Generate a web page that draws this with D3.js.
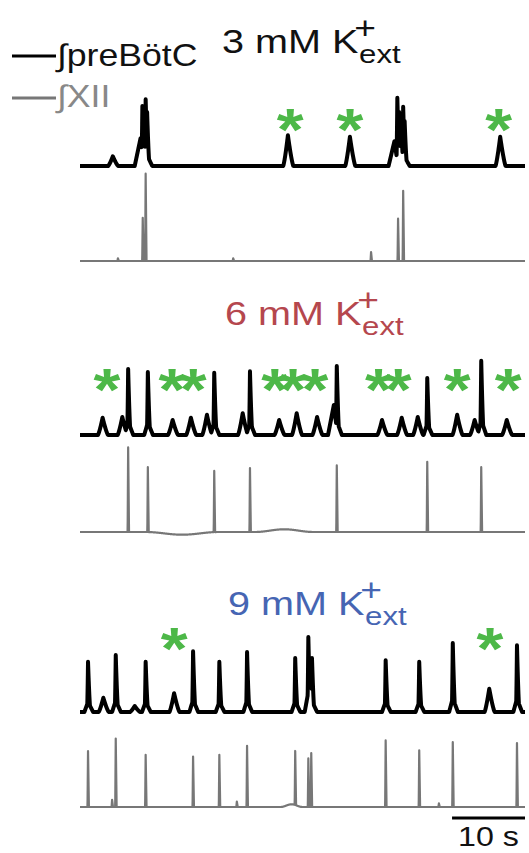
<!DOCTYPE html>
<html>
<head>
<meta charset="utf-8">
<script src="https://cdn.jsdelivr.net/npm/d3@7"></script>
<style>
  body { margin: 0; background: #fff; }
  svg { display: block; }
  text { font-family: "Liberation Sans", Arial, Helvetica, sans-serif; }
</style>
</head>
<body>
<svg id="fig" width="529" height="853"></svg>
<script>
// Recording window (s)
const DURATION = 61;

// Integrated preBötC bursts: [time s, amplitude a.u., kind]
// kind: s = full inspiratory burst, b = small burstlet, w = slow shoulder
const pre3mM = [
  [4.5, 13, "b"], [8.3, 37, "w"], [8.55, 80, "s"], [8.75, 70, "s"],
  [9.0, 89, "s"], [9.2, 72, "s"],
  [28.5, 41, "b"], [37.0, 39, "b"],
  [43.1, 33, "w"], [43.5, 91, "s"], [43.75, 72, "s"], [44.0, 66, "s"],
  [44.3, 79, "s"], [44.5, 60, "s"],
  [57.6, 39, "b"]
];
const pre6mM = [
  [3.1, 23, "b"], [5.8, 24, "b"], [6.6, 88, "s"], [9.3, 84, "s"],
  [12.7, 20, "b"], [15.2, 23, "b"], [17.4, 27, "b"], [18.4, 83, "s"],
  [22.3, 29, "b"], [23.3, 85, "s"], [27.3, 20, "b"], [29.7, 29, "b"],
  [32.5, 24, "b"], [34.8, 40, "w"], [35.2, 92, "s"], [41.4, 20, "b"],
  [44.1, 23, "b"], [46.3, 24, "b"], [47.6, 76, "s"], [51.7, 27, "b"],
  [54.1, 20, "b"], [55.0, 99, "s"], [58.5, 20, "b"]
];
const pre9mM = [
  [1.1, 67, "s"], [3.2, 19, "b"], [4.9, 76, "s"], [7.5, 8, "b"],
  [9.0, 67, "s"], [12.9, 25, "b"], [15.5, 81, "s"], [19.1, 67, "s"],
  [22.9, 80, "s"], [29.5, 72, "s"], [31.3, 100, "s"], [31.6, 43, "w"],
  [31.8, 72, "s"], [41.9, 69, "s"], [46.5, 67, "s"], [51.1, 92, "s"],
  [56.1, 31, "b"], [59.9, 89, "s"]
];

// Integrated XII bursts: [time s, amplitude a.u.]
const xii3mM = [
  [5.2, 3], [8.6, 48], [9.0, 97], [21.0, 3], [39.9, 10], [43.6, 47], [44.3, 78]
];
const xii6mM = [
  [6.6, 94], [9.3, 72], [18.4, 68], [23.3, 71], [35.2, 74], [47.6, 78], [55.0, 72]
];
const xii9mM = [
  [1.1, 62], [4.4, 8], [4.9, 76], [9.0, 58], [15.5, 56], [19.1, 58],
  [21.5, 6], [22.9, 68], [29.5, 60], [31.3, 54], [31.7, 60], [41.9, 74],
  [46.5, 63], [49.2, 4], [51.1, 72], [59.9, 71]
];

// Slow XII baseline drift: [centre s, amplitude a.u., half-width s]
const xiiDrift3mM = [];
const xiiDrift6mM = [[14.0, -3.0, 5.0], [28.0, 3.0, 4.0]];
const xiiDrift9mM = [[29.0, 3.0, 1.5]];

// Burstlets marked with an asterisk (time s)
const stars3mM = [28.8, 37.0, 57.4];
const stars6mM = [3.7, 12.6, 15.5, 26.7, 29.2, 32.2, 40.9, 43.6, 51.7, 58.7];
const stars9mM = [12.9, 56.2];

// Panel labels
const kConcentrations = ["3", "6", "9"];
const labelColors = ["#111111", "#b5474e", "#4665b3"];
const legendLabels = ["\u222BpreBötC", "\u222BXII"];
const scaleBarSeconds = 10;
const scaleBarLabel = "10 s";

// ---------------------------------------------------------------
const svg = d3.select("#fig");
const x = d3.scaleLinear().domain([0, DURATION]).range([80, 525]);

const PRE_COLOR = "#000000";
const XII_COLOR = "#777777";
const STAR_COLOR = "#4db848";
const STRETCH = 1.15;

// waveform profiles for each burst kind (rise / decay in seconds)
const profiles = {
  s: [{ k: 1.0, rise: 0.14, decay: 0.35, pow: 1.5 }, { k: 0.2, rise: 0.5, decay: 0.7, pow: 1 }],
  b: [{ k: 1.0, rise: 0.65, decay: 0.75, pow: 1.3 }],
  w: [{ k: 1.0, rise: 0.8, decay: 0.5, pow: 1 }],
  x: [{ k: 1.0, rise: 0.07, decay: 0.12, pow: 1 }]
};

function burstValue(dt, amp, kind) {
  let v = 0;
  for (const p of profiles[kind]) {
    if (dt < -p.rise || dt > p.decay) continue;
    const f = dt < 0 ? 1 + dt / p.rise : 1 - dt / p.decay;
    v = Math.max(v, p.k * amp * Math.pow(f, p.pow));
  }
  return v;
}

function buildTrace(events, drift) {
  const times = d3.range(0, DURATION + 1e-9, 0.02);
  events.forEach(e => times.push(e[0]));
  times.sort((a, b) => a - b);
  return times.map(t => {
    let v = 0;
    for (const e of events) {
      v = Math.max(v, burstValue(t - e[0], e[1], e[2] || "x"));
    }
    for (const d of drift) {
      const u = (t - d[0]) / d[2];
      if (Math.abs(u) < 1) v += d[1] * 0.5 * (1 + Math.cos(Math.PI * u));
    }
    return [t, v];
  });
}

const panels = [
  { pre: pre3mM, xii: xii3mM, drift: xiiDrift3mM, stars: stars3mM,
    preBase: 166, xiiBase: 261, starY: 112, titleX: 222, titleY: 53 },
  { pre: pre6mM, xii: xii6mM, drift: xiiDrift6mM, stars: stars6mM,
    preBase: 435, xiiBase: 532, starY: 372, titleX: 225, titleY: 325 },
  { pre: pre9mM, xii: xii9mM, drift: xiiDrift9mM, stars: stars9mM,
    preBase: 712, xiiBase: 807, starY: 631, titleX: 228, titleY: 615 }
];

const STAR_SIZE = 60;

panels.forEach((p, i) => {
  const g = svg.append("g").attr("class", "panel");
  const yPre = d3.scaleLinear().domain([0, 100]).range([p.preBase, p.preBase - 75]);
  const yXii = d3.scaleLinear().domain([0, 100]).range([p.xiiBase, p.xiiBase - 90]);

  const preLine = d3.line().x(d => x(d[0])).y(d => yPre(d[1]));
  const xiiLine = d3.line().x(d => x(d[0])).y(d => yXii(d[1]));

  g.append("path")
    .attr("d", xiiLine(buildTrace(p.xii, p.drift)))
    .attr("fill", "none").attr("stroke", XII_COLOR)
    .attr("stroke-width", 2.2).attr("stroke-linejoin", "round");

  g.append("path")
    .attr("d", preLine(buildTrace(p.pre, [])))
    .attr("fill", "none").attr("stroke", PRE_COLOR)
    .attr("stroke-width", 4).attr("stroke-linejoin", "round");

  // asterisks over burstlets
  g.selectAll("text.star").data(p.stars).join("text")
    .attr("class", "star")
    .attr("transform", d => `translate(${x(d)},${p.starY + 0.64 * STAR_SIZE}) scale(${STRETCH},1)`)
    .attr("text-anchor", "middle")
    .attr("font-size", STAR_SIZE).attr("font-weight", "bold")
    .attr("fill", STAR_COLOR)
    .text("*");

  // condition label: n mM K+ext
  const title = g.append("text")
    .attr("transform", `translate(${p.titleX},${p.titleY}) scale(1.2,1)`)
    .attr("font-size", 33).attr("fill", labelColors[i]);
  title.append("tspan").text(`${kConcentrations[i]} mM K`);
  title.append("tspan").attr("dx", -3.5).attr("dy", -14).attr("font-size", 31).text("+");
  title.append("tspan").attr("dx", -14).attr("dy", 24).attr("font-size", 26).text("ext");
});

// legend
const legend = svg.append("g");
[[PRE_COLOR, 56, 66, "#111"], [XII_COLOR, 98, 107, "#888"]].forEach((row, j) => {
  legend.append("line")
    .attr("x1", 12).attr("x2", 56).attr("y1", row[1]).attr("y2", row[1])
    .attr("stroke", row[0]).attr("stroke-width", 3);
  legend.append("text")
    .attr("transform", `translate(57,${row[2]}) scale(${STRETCH},1)`)
    .attr("font-size", 31).attr("fill", row[3])
    .text(legendLabels[j]);
});

// time scale bar
const barT0 = DURATION - scaleBarSeconds;
svg.append("line")
  .attr("x1", x(barT0)).attr("x2", x(DURATION))
  .attr("y1", 818).attr("y2", 818)
  .attr("stroke", "#000").attr("stroke-width", 3);
svg.append("text")
  .attr("transform", `translate(${(x(barT0) + x(DURATION)) / 2},846) scale(${STRETCH},1)`)
  .attr("text-anchor", "middle").attr("font-size", 28).attr("fill", "#111")
  .text(scaleBarLabel);
</script>
</body>
</html>
